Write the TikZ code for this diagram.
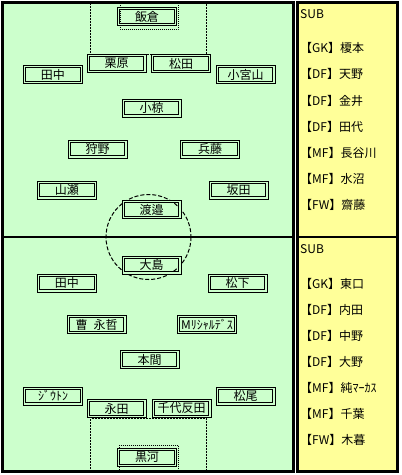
\documentclass[tikz,border=0pt]{standalone}
\usepackage{fontspec}
\setmainfont{Noto Sans CJK JP}
\newfontfamily\jp{Noto Sans CJK JP}
\definecolor{fieldgreen}{RGB}{204,255,204}
\definecolor{panelyellow}{RGB}{255,255,153}
\tikzset{
  pbox/.style={draw=black, line width=1pt, double=fieldgreen, double distance=1.3pt,
    minimum width=56.7pt, minimum height=15.7pt, inner sep=0pt, font=\jp\fontsize{12}{12}\selectfont},
  subitem/.style={anchor=west, inner sep=0pt, font=\jp\fontsize{12}{12}\selectfont},
  penarea/.style={draw=black, line width=1pt, dash pattern=on 2pt off 1pt},
  goalarea/.style={draw=black, line width=1pt, dash pattern=on 1pt off 1pt},
  frame/.style={draw=black, line width=3pt},
}
\begin{document}
\begin{tikzpicture}[x=1pt,y=-1pt]
\useasboundingbox[fill=white] (0,0) rectangle (402,475);
% field and panel
\fill[fieldgreen] (2.5,2.5) rectangle (293,471.5);
\fill[panelyellow] (297,2.5) rectangle (397.5,471.5);
% penalty and goal areas
\draw[penarea] (90.5,2.5) -- (90.5,54) -- (206.5,54) -- (206.5,2.5);
\draw[goalarea] (120,2.5) -- (120,29) -- (178,29) -- (178,2.5);
\draw[penarea] (90.5,471.5) -- (90.5,418.5) -- (206.5,418.5) -- (206.5,471.5);
\draw[goalarea] (119,471.5) -- (119,445) -- (178,445) -- (178,471.5);
% center circle
\draw[line width=1pt, dash pattern=on 4pt off 2pt] (148.5,237) circle[radius=42.5];
% frames
\draw[frame] (2.5,2.5) rectangle (293,471.5);
\draw[frame] (297,2.5) rectangle (397.5,471.5);
\draw[line width=2pt] (2.5,237) -- (293,237);
\draw[line width=2pt] (297,237) -- (397.5,237);
% top team
\node[pbox] (iikura) at (147,16.5) {飯倉};
\node[pbox] (kurihara) at (116.5,63.5) {栗原};
\node[pbox] (matsuda) at (181,63.5) {松田};
\node[pbox] (tanakaA) at (53,74.5) {田中};
\node[pbox] (komiyama) at (245.5,74.5) {小宮山};
\node[pbox] (ogura) at (151.5,108) {小椋};
\node[pbox] (kano) at (97.5,149) {狩野};
\node[pbox] (hyodo) at (210,149) {兵藤};
\node[pbox] (yamase) at (67,190) {山瀬};
\node[pbox] (sakata) at (238.5,190) {坂田};
\node[pbox] (watanabe) at (151.5,209.5) {渡邉};
% bottom team
\node[pbox] (oshima) at (151.5,265) {大島};
\node[pbox] (tanakaB) at (67,283) {田中};
\node[pbox] (matsushita) at (237.5,283) {松下};
\node[pbox] (cho) at (96.5,324.5) {曹\hspace{0.5em}永哲};
\node[pbox] (marcus) at (207,324.5) {Mﾘｼｬﾙﾃﾞｽ};
\node[pbox] (honma) at (149.5,359.5) {本間};
\node[pbox] (jiuton) at (53,396) {ｼﾞｳﾄﾝ};
\node[pbox] (matsuo) at (245.5,396) {松尾};
\node[pbox] (nagata) at (116.5,408.5) {永田};
\node[pbox] (chiyo) at (181.5,408.5) {千代反田};
\node[pbox] (kurokawa) at (147,457.5) {黒河};
% substitutes top
\node[subitem] (subA) at (300,14) {SUB};
\node[subitem] (subA1) at (300,48) {【GK】榎本};
\node[subitem] (subA2) at (300,74) {【DF】天野};
\node[subitem] (subA3) at (300,100.5) {【DF】金井};
\node[subitem] (subA4) at (300,126.5) {【DF】田代};
\node[subitem] (subA5) at (300,153) {【MF】長谷川};
\node[subitem] (subA6) at (300,179) {【MF】水沼};
\node[subitem] (subA7) at (300,205) {【FW】齋藤};
% substitutes bottom
\node[subitem] (subB) at (300,249) {SUB};
\node[subitem] (subB1) at (300,283.5) {【GK】東口};
\node[subitem] (subB2) at (300,309.5) {【DF】内田};
\node[subitem] (subB3) at (300,335.5) {【DF】中野};
\node[subitem] (subB4) at (300,361.5) {【DF】大野};
\node[subitem] (subB5) at (300,387.5) {【MF】純ﾏｰｶｽ};
\node[subitem] (subB6) at (300,413.5) {【MF】千葉};
\node[subitem] (subB7) at (300,439.5) {【FW】木暮};
\end{tikzpicture}
\end{document}
